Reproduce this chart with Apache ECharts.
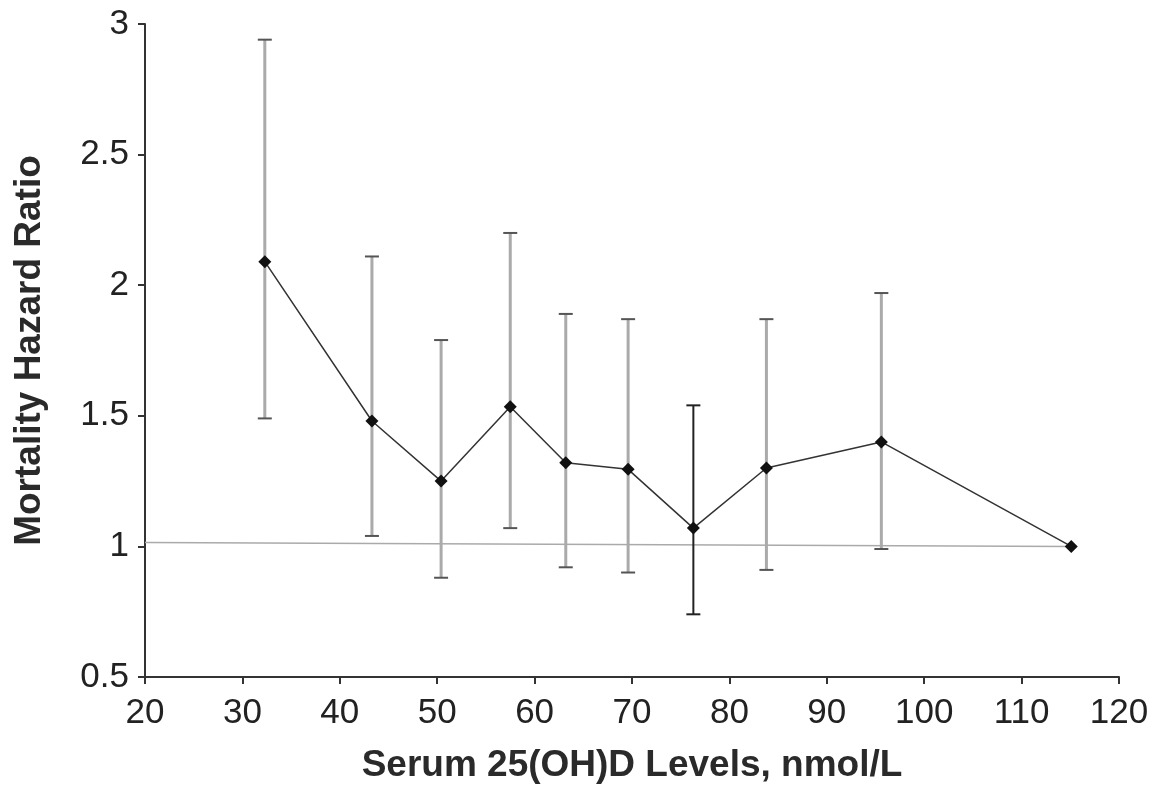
<!DOCTYPE html>
<html><head><meta charset="utf-8">
<script src="https://cdn.jsdelivr.net/npm/echarts@6/dist/echarts.min.js"></script>
<style>html,body{margin:0;padding:0;background:#fff}#c{width:1157px;height:785px}</style>
</head><body><div id="c"></div>
<script>
const xLevels = [32.3, 43.3, 50.4, 57.5, 63.2, 69.6, 76.3, 83.8, 95.6, 115.1];
const hazard  = [2.09, 1.48, 1.25, 1.535, 1.32, 1.295, 1.07, 1.30, 1.40, 1.00];
const ciLow   = [1.49, 1.04, 0.88, 1.07, 0.92, 0.90, 0.74, 0.91, 0.99, null];
const ciHigh  = [2.94, 2.11, 1.79, 2.20, 1.89, 1.87, 1.54, 1.87, 1.97, null];
const barDark = [false, false, false, false, false, false, true, false, false, false];
const refLineX = [20, 115];
const refLineY = [1.015, 1.0];

const errData = xLevels.map((x, i) => [x, ciLow[i], ciHigh[i], barDark[i] ? 1 : 0]).filter(d => d[1] != null);

const chart = echarts.init(document.getElementById('c'));
const font = '"Liberation Sans", Arial, Helvetica, sans-serif';
chart.setOption({
  animation: false,
  grid: {left: 145, right: 38, top: 24, bottom: 108, containLabel: false, outerBoundsMode: 'none'},
  xAxis: {
    type: 'value', min: 20, max: 120, interval: 10,
    name: 'Serum 25(OH)D Levels, nmol/L', nameLocation: 'middle', nameGap: 70, nameMoveOverlap: false,
    nameTextStyle: {fontFamily: font, fontSize: 37, fontWeight: 'bold', color: '#2a2a2a'},
    axisLine: {lineStyle: {color: '#333', width: 2}},
    axisTick: {length: 7, lineStyle: {color: '#333', width: 2}},
    axisLabel: {fontFamily: font, fontSize: 35, color: '#222', margin: 19},
    splitLine: {show: false}
  },
  yAxis: {
    type: 'value', min: 0.5, max: 3, interval: 0.5,
    name: 'Mortality Hazard Ratio', nameLocation: 'middle', nameGap: 97, nameMoveOverlap: false,
    nameTextStyle: {fontFamily: font, fontSize: 37, fontWeight: 'bold', color: '#2a2a2a'},
    axisLine: {show: true, lineStyle: {color: '#333', width: 2}},
    axisTick: {show: true, length: 7, lineStyle: {color: '#333', width: 2}},
    axisLabel: {fontFamily: font, fontSize: 35, color: '#222', margin: 16},
    splitLine: {show: false}
  },
  series: [
    {
      type: 'line', data: refLineX.map((x, i) => [x, refLineY[i]]),
      symbol: 'none', lineStyle: {color: '#aaa', width: 1.5}, silent: true, z: 1
    },
    {
      type: 'custom', data: errData, z: 2,
      renderItem: function (params, api) {
        const x = api.value(0);
        const lo = api.coord([x, api.value(1)]);
        const hi = api.coord([x, api.value(2)]);
        const dark = api.value(3) === 1;
        const col = dark ? '#222' : '#aaa';
        const capCol = dark ? '#222' : '#555';
        const hw = 7;
        return {
          type: 'group',
          children: [
            {type: 'line', shape: {x1: lo[0], y1: lo[1], x2: hi[0], y2: hi[1]}, style: {stroke: col, lineWidth: dark ? 2 : 3}},
            {type: 'line', shape: {x1: lo[0] - hw, y1: lo[1], x2: lo[0] + hw, y2: lo[1]}, style: {stroke: capCol, lineWidth: 2}},
            {type: 'line', shape: {x1: hi[0] - hw, y1: hi[1], x2: hi[0] + hw, y2: hi[1]}, style: {stroke: capCol, lineWidth: 2}}
          ]
        };
      }
    },
    {
      type: 'line', data: xLevels.map((x, i) => [x, hazard[i]]), z: 3,
      symbol: 'diamond', symbolSize: 13,
      itemStyle: {color: '#111'},
      lineStyle: {color: '#333', width: 1.5}
    }
  ]
});
</script></body></html>
